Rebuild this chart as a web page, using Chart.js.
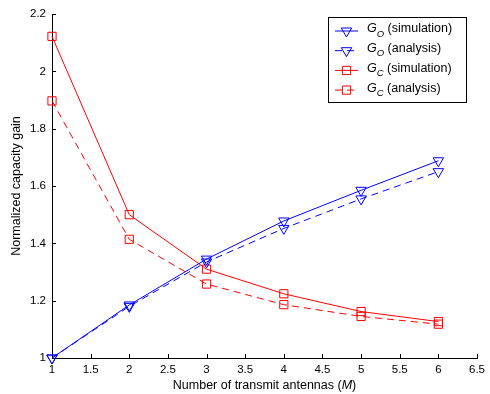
<!DOCTYPE html>
<html>
<head>
<meta charset="utf-8">
<script src="https://cdn.jsdelivr.net/npm/chart.js@4/dist/chart.umd.min.js"></script>
<style>
  html, body { margin: 0; padding: 0; background: #fff; }
  #wrap { width: 490px; height: 394px; }
</style>
</head>
<body>
<div id="wrap"><canvas id="c"></canvas></div>
<script>
const antennas = [1, 2, 3, 4, 5, 6];
const goSim = [1.0, 1.185, 1.345, 1.478, 1.585, 1.688];
const goAna = [1.0, 1.18, 1.335, 1.452, 1.555, 1.65];
const gcSim = [2.122, 1.5, 1.31, 1.224, 1.162, 1.127];
const gcAna = [1.897, 1.414, 1.258, 1.186, 1.145, 1.118];

const legendSymbols = ['O', 'O', 'C', 'C'];
const legendNotes = [' (simulation)', ' (analysis)', ' (simulation)', ' (analysis)'];
const xTitle = ['Number of transmit antennas (', 'M', ')'];
const yTitle = 'Normalized capacity gain';

const FONT = "'Liberation Sans', Arial, Helvetica, sans-serif";
const BLUE = '#0000ff';
const RED = '#ff0000';
const DASH = [7, 5];

function pts(ys) {
  return antennas.map((x, i) => ({ x, y: ys[i] }));
}

function series(data, color, dashed, tri) {
  return {
    data: pts(data),
    borderColor: color,
    borderWidth: 1,
    borderDash: dashed ? DASH : [],
    pointStyle: tri ? 'triangle' : 'rect',
    pointRotation: tri ? 180 : 0,
    pointRadius: tri ? 6 : 5.8,
    pointBorderColor: color,
    pointBackgroundColor: 'rgba(0,0,0,0)',
    pointBorderWidth: 1,
    tension: 0,
    fill: false,
    clip: false,
  };
}

// draw text pieces one after another (mixed italic / subscript)
function drawRuns(ctx, runs, x, y) {
  let cx = x;
  runs.forEach((r) => {
    ctx.font = r.font;
    ctx.fillText(r.text, cx, y + (r.dy || 0));
    cx += ctx.measureText(r.text).width;
  });
}
function runsWidth(ctx, runs) {
  let w = 0;
  runs.forEach((r) => { ctx.font = r.font; w += ctx.measureText(r.text).width; });
  return w;
}

const innerTicks = {
  id: 'innerTicks',
  beforeDatasetsDraw(chart) {
    const { ctx, chartArea, scales } = chart;
    ctx.save();
    ctx.strokeStyle = '#000';
    ctx.lineWidth = 1;
    ctx.beginPath();
    scales.x.ticks.forEach((t) => {
      const px = Math.round(scales.x.getPixelForValue(t.value)) + 0.5;
      ctx.moveTo(px, chartArea.bottom);
      ctx.lineTo(px, chartArea.bottom - 4);
    });
    scales.y.ticks.forEach((t) => {
      const py = Math.round(scales.y.getPixelForValue(t.value)) + 0.5;
      ctx.moveTo(chartArea.left, py);
      ctx.lineTo(chartArea.left + 4, py);
    });
    ctx.stroke();
    ctx.restore();
  },
};

const titlesAndLegend = {
  id: 'titlesAndLegend',
  afterDraw(chart) {
    const { ctx, chartArea } = chart;
    ctx.save();
    ctx.fillStyle = '#000';
    ctx.textBaseline = 'middle';

    // y title
    ctx.save();
    ctx.translate(17, (chartArea.top + chartArea.bottom) / 2);
    ctx.rotate(-Math.PI / 2);
    ctx.textAlign = 'center';
    ctx.font = '12.5px ' + FONT;
    ctx.fillText(yTitle, 0, 0);
    ctx.restore();

    // x title
    const xr = [
      { text: xTitle[0], font: '12.5px ' + FONT },
      { text: xTitle[1], font: 'italic 12.5px ' + FONT },
      { text: xTitle[2], font: '12.5px ' + FONT },
    ];
    ctx.textAlign = 'left';
    const xw = runsWidth(ctx, xr);
    drawRuns(ctx, xr, (chartArea.left + chartArea.right) / 2 - xw / 2, 386);

    // legend
    const bx = 328.5, by = 17.5, bw = 138, bh = 85;
    ctx.fillStyle = '#fff';
    ctx.fillRect(bx, by, bw, bh);
    ctx.strokeStyle = '#000';
    ctx.lineWidth = 1;
    ctx.strokeRect(bx, by, bw, bh);

    chart.data.datasets.forEach((ds, i) => {
      const ry = 31 + i * 19.7;
      ctx.strokeStyle = ds.borderColor;
      ctx.setLineDash(ds.borderDash);
      ctx.beginPath();
      ctx.moveTo(335, ry);
      ctx.lineTo(358, ry);
      ctx.stroke();
      ctx.setLineDash([]);
      ctx.fillStyle = 'rgba(0,0,0,0)';
      Chart.helpers.drawPoint(ctx, {
        pointStyle: ds.pointStyle,
        rotation: ds.pointRotation,
        radius: ds.pointRadius,
        borderWidth: 1,
      }, 346.5, ry);

      ctx.fillStyle = '#000';
      drawRuns(ctx, [
        { text: 'G', font: 'italic 12.5px ' + FONT, dy: -2 },
        { text: legendSymbols[i], font: 'italic 9.5px ' + FONT, dy: 3 },
        { text: legendNotes[i], font: '12.5px ' + FONT, dy: -2 },
      ], 367, ry);
    });
    ctx.restore();
  },
};

const fmt = (v) => String(Number(v.toFixed(2)));

new Chart(document.getElementById('c'), {
  type: 'line',
  data: {
    datasets: [
      series(goSim, BLUE, false, true),
      series(goAna, BLUE, true, true),
      series(gcSim, RED, false, false),
      series(gcAna, RED, true, false),
    ],
  },
  options: {
    responsive: true,
    maintainAspectRatio: false,
    animation: false,
    events: [],
    layout: { padding: { top: 14, right: 12, left: 0, bottom: 0 } },
    plugins: { legend: { display: false }, tooltip: { enabled: false } },
    scales: {
      x: {
        type: 'linear',
        min: 1,
        max: 6.5,
        ticks: {
          stepSize: 0.5,
          autoSkip: false,
          maxRotation: 0,
          color: '#000',
          padding: 5,
          font: { size: 11.5, family: FONT },
          callback: fmt,
        },
        grid: { drawOnChartArea: false, drawTicks: false },
        border: { color: '#000', width: 1 },
        afterFit: (s) => { s.height = 36; },
      },
      y: {
        type: 'linear',
        min: 1,
        max: 2.2,
        ticks: {
          stepSize: 0.2,
          color: '#000',
          padding: 6,
          font: { size: 11.5, family: FONT },
          callback: fmt,
        },
        grid: { drawOnChartArea: false, drawTicks: false },
        border: { color: '#000', width: 1 },
        afterFit: (s) => { s.width = 52; },
      },
    },
  },
  plugins: [innerTicks, titlesAndLegend],
});
</script>
</body>
</html>
